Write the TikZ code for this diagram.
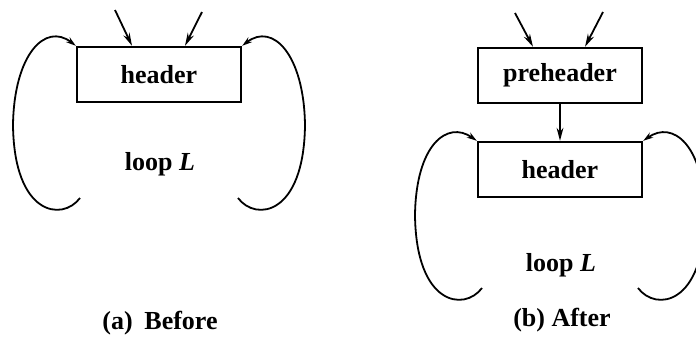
\documentclass[tikz,border=0pt]{standalone}
\usepackage{fontspec}
\setmainfont{Liberation Serif}
\usetikzlibrary{arrows.meta}

\begin{document}
\begin{tikzpicture}[>={Stealth[length=6.5pt,width=3.4pt]}, x=0.5pt, y=-0.5pt,
    font=\fontsize{13}{15}\selectfont\bfseries, line width=0.9pt,
    blk/.style={draw, line width=1.2pt, minimum width=82pt, minimum height=27.5pt, inner sep=0pt},
    back/.style={-{Stealth[length=5pt,width=3pt]}, line width=0.9pt}]
    \useasboundingbox (0,0) rectangle (696,339);
    \clip (0,0) rectangle (696,339);
    % (a) before
    \node[blk] (hdrA) at (159,74.5) {header};
    \coordinate (inA1) at (115,10);
    \coordinate (inA2) at (202,12);
    \draw[->] (inA1) -- ([xshift=-13.5pt]hdrA.north);
    \draw[->] (inA2) -- ([xshift=13pt]hdrA.north);
    \coordinate (lpA1) at (80,198);
    \coordinate (lpA2) at (238,198);
    \draw[back] (lpA1) .. controls (62,222) and (14,215) .. (13,125)
      .. controls (14,55) and (45,22) .. (hdrA.north west);
    \draw[back] (lpA2) .. controls (256,222) and (304,215) .. (305,125)
      .. controls (304,55) and (273,22) .. (hdrA.north east);
    \node (bodyA) at (160,164) {loop \textit{L}};
    \node (capA) at (160,323) {(a)\hspace{0.45em}Before};
    % (b) after
    \node[blk] (preB) at (560,75.5) {preheader};
    \node[blk] (hdrB) at (560,169.5) {header};
    \coordinate (inB1) at (515,13);
    \coordinate (inB2) at (603,12);
    \draw[->] (inB1) -- ([xshift=-13.5pt]preB.north);
    \draw[->] (inB2) -- ([xshift=12.5pt]preB.north);
    \draw[->] (preB) -- (hdrB);
    \coordinate (lpB1) at (482,288);
    \coordinate (lpB2) at (638,288);
    \draw[back] (lpB1) .. controls (464,312) and (416,305) .. (415,215)
      .. controls (416,145) and (447,120) .. (hdrB.north west);
    \draw[back] (lpB2) .. controls (656,312) and (704,305) .. (705,215)
      .. controls (704,145) and (673,120) .. (hdrB.north east);
    \node (bodyB) at (561,265) {loop \textit{L}};
    \node (capB) at (562,320) {(b) After};
\end{tikzpicture}
\end{document}
